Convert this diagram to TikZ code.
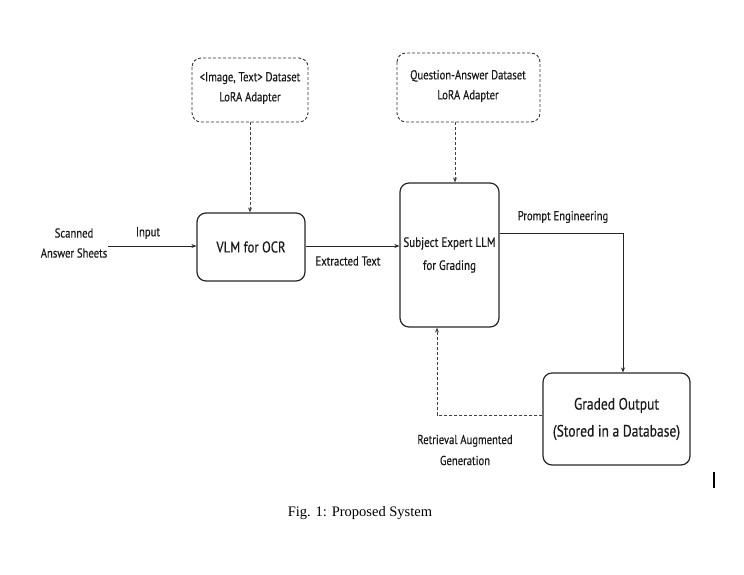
\documentclass[tikz,border=0pt]{standalone}
\usepackage{fontspec}
\setmainfont{Liberation Serif}
\newfontfamily\diagfont[FakeStretch=0.82,FakeBold=0.4]{PT Sans}
\usetikzlibrary{arrows.meta}
\begin{document}
\begin{tikzpicture}[x=1pt,y=-1pt,
  solidbox/.style={draw=black!85, line width=1.2pt, rounded corners=9pt},
  dashbox/.style={draw=black!80, line width=0.9pt, dashed, dash pattern=on 3pt off 2pt, rounded corners=9pt},
  lbl/.style={font=\diagfont\fontsize{13}{16}\selectfont, text=black!90, align=center},
  blbl/.style={font=\diagfont\fontsize{15.5}{19}\selectfont, text=black!90, align=center},
  conn/.style={draw=black!85, line width=0.9pt, -{Stealth[length=5pt,width=4pt]}},
  dconn/.style={draw=black!75, line width=0.9pt, dash pattern=on 3pt off 2pt, -{Stealth[length=5pt,width=4pt]}}]
\useasboundingbox (0,0) rectangle (744,574);
% boxes
\draw[dashbox] (192,58) rectangle (308,122);
\node[lbl, font=\diagfont\fontsize{13}{20}\selectfont] (d1) at (250,88) {<Image, Text> Dataset\\LoRA Adapter};
\coordinate (d1b) at (250,122);
\draw[dashbox] (397,53) rectangle (540,122);
\node[lbl, font=\diagfont\fontsize{13}{20}\selectfont] (d2) at (468,86) {Question-Answer Dataset\\LoRA Adapter};
\coordinate (d2b) at (455,122);

\node[solidbox, minimum width=108pt, minimum height=68pt, blbl] (vlm) at (251,247) {VLM for OCR};
\node[solidbox, minimum width=99pt, minimum height=144pt, lbl, font=\diagfont\fontsize{13.5}{23}\selectfont] (llm) at (449.5,255) {Subject Expert LLM\\for Grading};
\node[solidbox, minimum width=147pt, minimum height=92pt, blbl, font=\diagfont\fontsize{16.5}{27}\selectfont] (out) at (616.5,419) {Graded Output\\(Stored in a Database)};

\node[lbl, font=\diagfont\fontsize{13}{20}\selectfont] (scan) at (74,243) {Scanned\\Answer Sheets};
\coordinate (inS) at (108,246);

% connectors
\draw[conn] (inS) -- (vlm.west |- inS);
\node[lbl] (inlbl) at (148,233) {Input};
\draw[conn] (vlm.east |- inS) -- (llm.west |- inS);
\node[lbl] (ext) at (348,261) {Extracted Text};
\draw[dconn] (d1b) -- (vlm.north -| d1b);
\draw[dconn] (d2b) -- (llm.north -| d2b);
\coordinate (pe) at (623,233);
\draw[conn] (llm.east |- pe) -- (pe) -- (out.north -| pe);
\node[lbl] (pelbl) at (563,217) {Prompt Engineering};
\coordinate (rg) at (437,415);
\draw[dconn] (out.west |- rg) -- (rg) -- (llm.south -| rg);
\node[lbl, font=\diagfont\fontsize{13}{21}\selectfont] (rag) at (465,450) {Retrieval Augmented\\Generation};
% caret mark
\draw[line width=2pt] (714,472) -- (714,488);
\node[font=\fontsize{14.5}{17}\selectfont] (cap) at (360,513) {Fig. 1: Proposed System};
\end{tikzpicture}
\end{document}
